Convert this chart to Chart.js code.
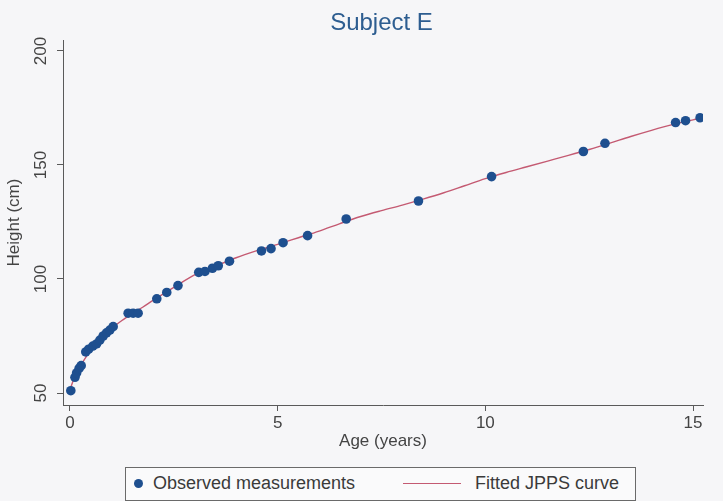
<!DOCTYPE html>
<html>
<head>
<meta charset="utf-8">
<script src="https://cdn.jsdelivr.net/npm/chart.js@4.4.1/dist/chart.umd.min.js"></script>
<style>
html,body{margin:0;padding:0;background:#f6f6f8;}
#wrap{position:relative;width:723px;height:501px;overflow:hidden;}
#c{position:absolute;left:0;top:0;}
#legend{position:absolute;left:125px;top:467px;width:509px;height:32px;border:1px solid #6a6a6a;background:#fafafb;
  font-family:"Liberation Sans",Arial,sans-serif;font-size:18px;color:#3a3a3a;}
#legend .dot{position:absolute;left:8px;top:11px;width:9px;height:9px;border-radius:50%;background:#1e4f8f;}
#legend .t1{position:absolute;left:27px;top:5px;white-space:nowrap;}
#legend .ln{position:absolute;left:277px;top:15px;width:58px;height:0;border-top:1.5px solid #c45a72;}
#legend .t2{position:absolute;left:349px;top:5px;white-space:nowrap;}
</style>
</head>
<body>
<div id="wrap">
  <canvas id="c" width="723" height="501"></canvas>
  <div id="legend">
    <span class="dot"></span><span class="t1">Observed measurements</span>
    <span class="ln"></span><span class="t2">Fitted JPPS curve</span>
  </div>
</div>
<script>
// ---- data ----
const titleText = "Subject E";
const xTitle = "Age (years)";
const yTitle = "Height (cm)";
const xTicks = [0, 5, 10, 15];
const yTicks = [50, 100, 150, 200];

const obsAge = [0.02, 0.12, 0.16, 0.22, 0.27, 0.38, 0.45, 0.55, 0.64, 0.72, 0.80, 0.88, 0.96, 1.04,
  1.40, 1.52, 1.64, 2.09, 2.33, 2.60, 3.10, 3.25, 3.43, 3.57, 3.84, 4.61, 4.84, 5.13, 5.72, 6.65,
  8.39, 10.15, 12.36, 12.88, 14.58, 14.82, 15.17];
const obsHeight = [51.0, 56.9, 58.8, 60.8, 62.0, 68.0, 69.2, 70.6, 71.5, 73.2, 75.0, 76.4, 77.6, 79.1,
  85.0, 85.0, 85.0, 91.3, 94.1, 97.1, 102.9, 103.3, 104.7, 105.8, 107.8, 112.3, 113.3, 115.9, 119.0, 126.3,
  134.2, 144.9, 155.9, 159.5, 168.6, 169.4, 170.7];

const fitAge = [0, 0.1, 0.2, 0.3, 0.4, 0.5, 0.6, 0.8, 1.0, 1.25, 1.5, 1.75, 2.0, 2.5, 3.0, 3.5, 4.0, 4.5,
  5.0, 5.5, 6.0, 6.5, 7.0, 7.5, 8.0, 8.5, 9.0, 9.5, 10.0, 10.5, 11.0, 11.5, 12.0, 12.5, 13.0, 13.5,
  14.0, 14.5, 15.0, 15.2];
const fitHeight = [51.5, 56.5, 60.0, 63.3, 66.2, 68.8, 70.8, 74.8, 78.3, 81.8, 84.8, 87.6, 90.6, 96.3,
  101.8, 105.6, 109.3, 112.4, 115.2, 118.1, 121.0, 124.3, 127.4, 130.0, 132.4, 135.0, 137.8, 140.9,
  144.0, 146.7, 149.2, 151.7, 154.2, 156.8, 159.6, 162.5, 165.2, 167.7, 169.8, 170.5];

// ---- styles ----
const FONT = '"Liberation Sans", Arial, sans-serif';
const dotColor = '#1e4f8f';
const lineColor = '#c45a72';
const axisColor = '#5a5a5a';
const textColor = '#444444';
const titleColor = '#2d5d90';
const TITLE_SHIFT = 30;

const obs = obsAge.map((a, i) => ({x: a, y: obsHeight[i]}));
const fit = fitAge.map((a, i) => ({x: a, y: fitHeight[i]}));

const shiftTitle = {
  id: 'shiftTitle',
  afterLayout(chart) {
    const t = chart.titleBlock;
    if (t) { t.left += TITLE_SHIFT; t.right += TITLE_SHIFT; }
  }
};

new Chart(document.getElementById('c'), {
  type: 'scatter',
  data: {
    datasets: [
      {label: 'Observed measurements', data: obs, backgroundColor: dotColor, borderColor: dotColor,
       pointRadius: 4.8, pointHoverRadius: 4.8, borderWidth: 0, order: 0},
      {label: 'Fitted JPPS curve', data: fit, showLine: true, borderColor: lineColor, borderWidth: 1.4,
       pointRadius: 0, pointHoverRadius: 0, cubicInterpolationMode: 'monotone', fill: false, order: 1}
    ]
  },
  options: {
    responsive: false,
    animation: false,
    layout: {padding: {left: 0, right: 20, top: 0, bottom: 33}},
    plugins: {
      legend: {display: false},
      tooltip: {enabled: false},
      title: {display: true, text: titleText, color: titleColor,
        font: {family: FONT, size: 24, weight: 'normal'}, padding: {top: 9, bottom: 2.2}}
    },
    scales: {
      x: {
        type: 'linear', min: -0.168, max: 15.24,
        afterBuildTicks: s => { s.ticks = xTicks.map(v => ({value: v})); },
        afterFit: s => { s.height = 63; },
        grid: {drawOnChartArea: false, drawTicks: true, tickLength: 6, color: axisColor},
        border: {display: true, color: axisColor, width: 1},
        ticks: {color: textColor, font: {family: FONT, size: 17}, padding: 2, maxRotation: 0, autoSkip: false},
        title: {display: true, text: xTitle, color: textColor, font: {family: FONT, size: 17},
          padding: {top: 0, bottom: 16}}
      },
      y: {
        type: 'linear', min: 44.74, max: 204.8,
        afterBuildTicks: s => { s.ticks = yTicks.map(v => ({value: v})); },
        afterFit: s => { s.width = 63; },
        grid: {drawOnChartArea: false, drawTicks: true, tickLength: 6, color: axisColor},
        border: {display: true, color: axisColor, width: 1},
        ticks: {color: textColor, font: {family: FONT, size: 17}, padding: 1.5, minRotation: 90, maxRotation: 90,
          crossAlign: 'center', autoSkip: false},
        title: {display: true, text: yTitle, color: textColor, font: {family: FONT, size: 17},
          padding: {top: 4, bottom: 0}}
      }
    }
  },
  plugins: [shiftTitle]
});
</script>
</body>
</html>
